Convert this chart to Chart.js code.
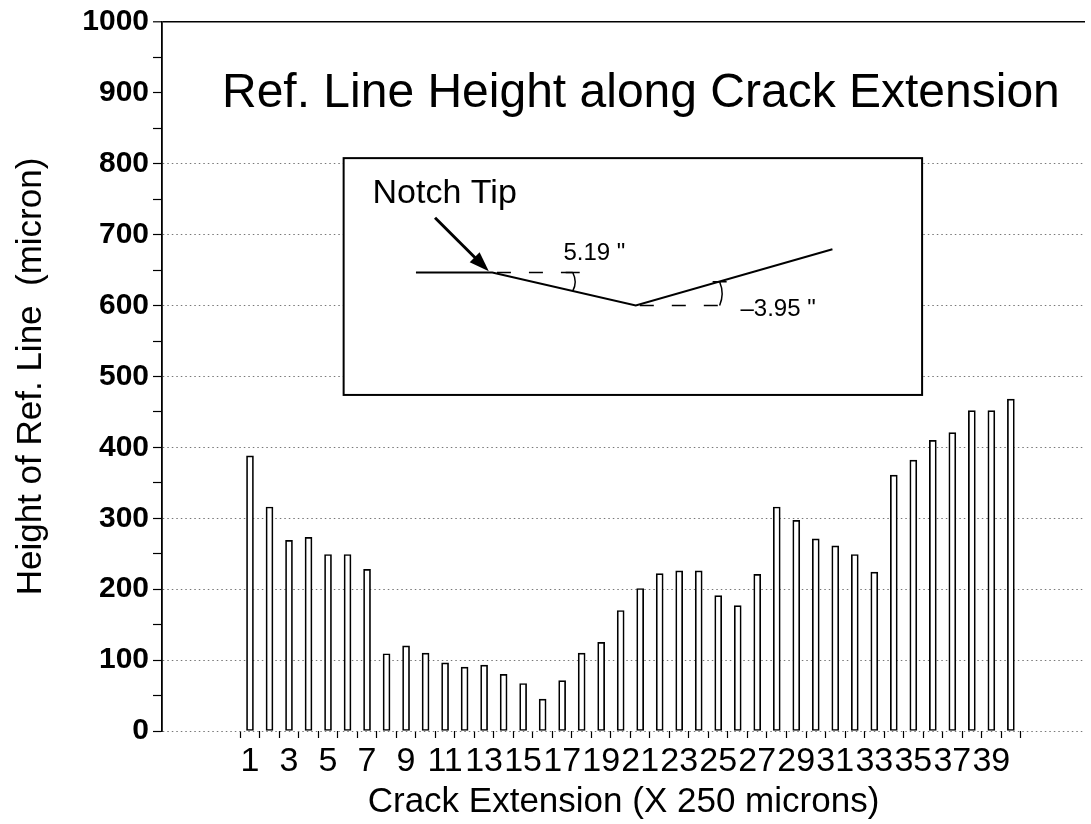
<!DOCTYPE html>
<html>
<head>
<meta charset="utf-8">
<script src="https://cdn.jsdelivr.net/npm/chart.js@4.4.1/dist/chart.umd.min.js"></script>
<style>
  html, body { margin: 0; padding: 0; background: #fff; }
  #wrap { width: 1091px; height: 824px; }
</style>
</head>
<body>
<div id="wrap"><canvas id="crackChart"></canvas></div>
<script>
// crack extension steps (x 250 microns)
const crackSteps = [1, 2, 3, 4, 5, 6, 7, 8, 9, 10, 11, 12, 13, 14, 15, 16, 17, 18, 19, 20,
                    21, 22, 23, 24, 25, 26, 27, 28, 29, 30, 31, 32, 33, 34, 35, 36, 37, 38, 39, 40];
// height of reference line (micron)
const refLineHeight = [388, 316, 269, 273, 249, 249, 228, 109, 120, 110,
                       96, 90, 93, 80, 67, 45, 71, 110, 125, 170,
                       201, 222, 226, 226, 191, 177, 221, 316, 297, 271,
                       261, 249, 224, 361, 382, 410, 421, 452, 452, 468];
const xTickLabels = [1, 3, 5, 7, 9, 11, 13, 15, 17, 19, 21, 23, 25, 27, 29, 31, 33, 35, 37, 39];

const FONT = '"Liberation Sans", Arial, Helvetica, sans-serif';

function bracket(ctx, x, yTop, yBot) {
    ctx.beginPath();
    ctx.moveTo(x - 7, yTop);
    ctx.lineTo(x + 7, yTop);
    ctx.moveTo(x, yTop);
    ctx.quadraticCurveTo(x + 5, (yTop + yBot) / 2, x, yBot);
    ctx.stroke();
}

const insetPlugin = {
    id: 'inset',
    afterDatasetsDraw(chart) {
        const { ctx, scales: { x, y } } = chart;
        const L = x.getPixelForValue(5.8), R = x.getPixelForValue(35.45);
        const T = y.getPixelForValue(808), B = y.getPixelForValue(474);
        const w = R - L, h = B - T;
        const px = f => L + f * w, py = f => T + f * h;
        ctx.save();
        ctx.fillStyle = '#fff';
        ctx.fillRect(L, T, w, h);
        ctx.strokeStyle = '#000';
        ctx.lineWidth = 2;
        ctx.strokeRect(L, T, w, h);

        // reference line profile
        ctx.beginPath();
        ctx.moveTo(px(0.125), py(0.483));
        ctx.lineTo(px(0.257), py(0.483));
        ctx.lineTo(px(0.505), py(0.622));
        ctx.lineTo(px(0.845), py(0.385));
        ctx.stroke();

        // dashed horizontals
        ctx.lineWidth = 1.5;
        ctx.setLineDash([14, 18]);
        ctx.beginPath();
        ctx.moveTo(px(0.265), py(0.483));
        ctx.lineTo(px(0.396), py(0.483));
        ctx.moveTo(px(0.512), py(0.622));
        ctx.lineTo(px(0.65), py(0.622));
        ctx.stroke();
        ctx.setLineDash([]);
        bracket(ctx, px(0.396), py(0.483), py(0.562));
        bracket(ctx, px(0.65), py(0.522), py(0.622));

        // arrow
        const ax0 = px(0.158), ay0 = py(0.252), ax1 = px(0.251), ay1 = py(0.478);
        const ang = Math.atan2(ay1 - ay0, ax1 - ax0);
        ctx.lineWidth = 3;
        ctx.beginPath();
        ctx.moveTo(ax0, ay0);
        ctx.lineTo(ax1 - 14 * Math.cos(ang), ay1 - 14 * Math.sin(ang));
        ctx.stroke();
        ctx.fillStyle = '#000';
        ctx.beginPath();
        ctx.moveTo(ax1, ay1);
        ctx.lineTo(ax1 - 20 * Math.cos(ang) + 7 * Math.sin(ang), ay1 - 20 * Math.sin(ang) - 7 * Math.cos(ang));
        ctx.lineTo(ax1 - 20 * Math.cos(ang) - 7 * Math.sin(ang), ay1 - 20 * Math.sin(ang) + 7 * Math.cos(ang));
        ctx.closePath();
        ctx.fill();

        // labels
        ctx.textAlign = 'left';
        ctx.textBaseline = 'alphabetic';
        ctx.font = '34px ' + FONT;
        ctx.fillText('Notch Tip', px(0.05), py(0.19));
        ctx.font = '24px ' + FONT;
        ctx.fillText('5.19 "', px(0.38), py(0.43));
        ctx.fillText('\u20133.95 "', px(0.686), py(0.665));
        ctx.restore();
    }
};

const titlePlugin = {
    id: 'plotTitle',
    afterDraw(chart) {
        const { ctx, chartArea } = chart;
        ctx.save();
        ctx.fillStyle = '#000';
        ctx.font = '48px ' + FONT;
        ctx.textAlign = 'left';
        ctx.textBaseline = 'alphabetic';
        ctx.fillText('Ref. Line Height along Crack Extension', chartArea.left + 60, chartArea.top + 85);
        ctx.restore();
    }
};

const ctx = document.getElementById('crackChart').getContext('2d');
new Chart(ctx, {
    type: 'bar',
    data: {
        labels: crackSteps,
        datasets: [{
            label: 'Height of Ref. Line',
            data: refLineHeight,
            backgroundColor: '#fff',
            borderColor: '#000',
            borderWidth: 1.7,
            borderSkipped: false,
            barThickness: 7
        }]
    },
    options: {
        responsive: true,
        maintainAspectRatio: false,
        animation: false,
        devicePixelRatio: 1,
        layout: { padding: { top: 22, right: 6, left: 0, bottom: 0 } },
        scales: {
            x: {
                type: 'linear',
                offset: false,
                min: -3.51,
                max: 43.8,
                afterBuildTicks: s => {
                    const t = xTickLabels.map(v => ({ value: v }));
                    crackSteps.forEach(v => t.push({ value: v + 0.5 }));
                    t.push({ value: 0.5 });
                    s.ticks = t.sort((a, b) => a.value - b.value);
                },
                afterFit: s => { s.height = 93; },
                grid: {
                    offset: false,
                    drawOnChartArea: false,
                    tickLength: 7,
                    tickWidth: 1.2,
                    tickColor: c => (c.tick && Number.isInteger(c.tick.value)) ? 'rgba(0,0,0,0)' : '#000'
                },
                border: { display: false },
                ticks: {
                    autoSkip: false,
                    maxRotation: 0,
                    minRotation: 0,
                    padding: 3,
                    color: '#000',
                    font: { family: FONT, size: 34 },
                    callback: v => Number.isInteger(v) ? String(v) : ''
                },
                title: {
                    display: true,
                    text: 'Crack Extension (X 250 microns)',
                    color: '#000',
                    font: { family: FONT, size: 35 },
                    padding: { top: 0, bottom: 1 }
                }
            },
            y: {
                min: 0,
                max: 1000,
                afterFit: s => { s.width = 162; },
                grid: {
                    color: c => {
                        const v = c.tick ? c.tick.value : 0;
                        if (v === 1000) return '#000';
                        if (v % 100 !== 0 || v === 900) return 'rgba(0,0,0,0)';
                        return '#777';
                    },
                    lineWidth: c => (c.tick && c.tick.value === 1000) ? 1.6 : 1,
                    tickColor: '#000',
                    tickLength: 9,
                    tickWidth: 1.2
                },
                border: {
                    display: true,
                    color: '#000',
                    width: 1.8,
                    dash: c => (c.tick && c.tick.value !== 1000) ? [1.5, 3] : []
                },
                ticks: {
                    stepSize: 50,
                    autoSkip: false,
                    padding: 4,
                    color: '#000',
                    font: { family: FONT, size: 30, weight: 'bold' },
                    callback: v => v % 100 === 0 ? String(v) : ''
                },
                title: {
                    display: true,
                    text: 'Height of Ref. Line  (micron)',
                    color: '#000',
                    font: { family: FONT, size: 35 },
                    padding: { top: 10, bottom: 0 }
                }
            }
        },
        plugins: {
            legend: { display: false },
            tooltip: { enabled: false }
        }
    },
    plugins: [insetPlugin, titlePlugin]
});
</script>
</body>
</html>
